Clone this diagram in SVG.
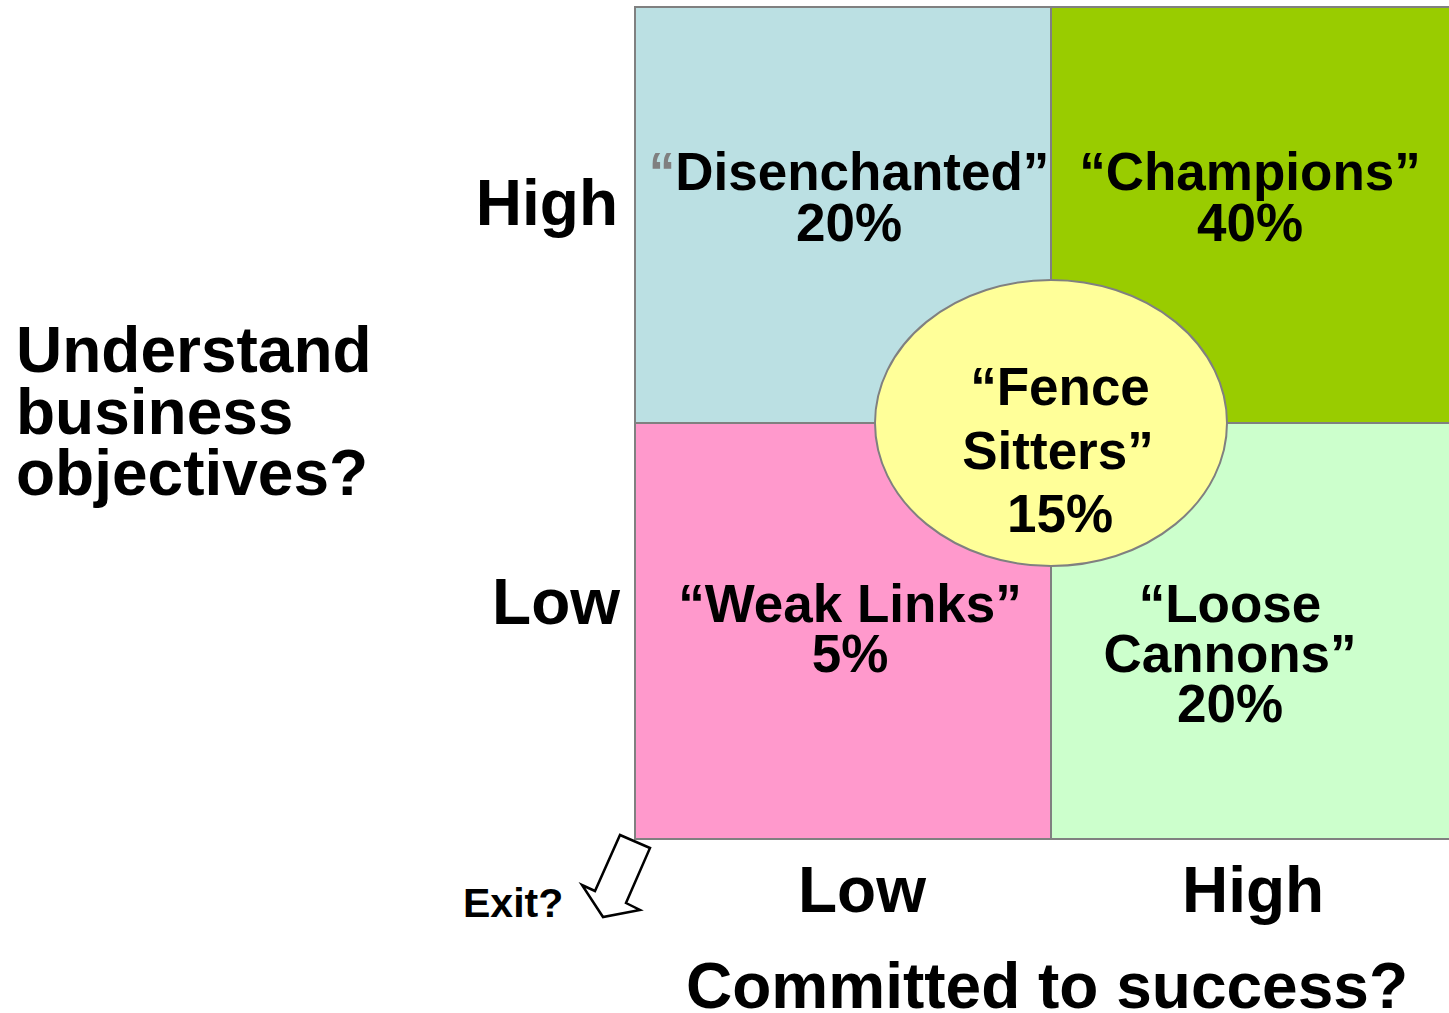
<svg xmlns="http://www.w3.org/2000/svg" width="1449" height="1013" viewBox="0 0 1449 1013">
<style>
text{font-family:"Liberation Sans",Arial,sans-serif;font-weight:bold;fill:#000}
.q{stroke:#808080;stroke-width:2}
.lbl{font-size:53px;text-anchor:middle}
.ax{font-size:64px}
</style>
<rect width="1449" height="1013" fill="#fff"/>
<g id="disenchanted">
<rect class="q" x="635" y="7" width="416" height="416" fill="#BBE0E3"/>
<text class="lbl" x="849" y="190"><tspan fill="#808080">“</tspan>Disenchanted”</text>
<text class="lbl" x="849" y="241">20%</text>
</g>
<g id="champions">
<rect class="q" x="1051" y="7" width="400" height="416" fill="#99CC00"/>
<text class="lbl" x="1250" y="190">“Champions”</text>
<text class="lbl" x="1250" y="241">40%</text>
</g>
<g id="weak-links">
<rect class="q" x="635" y="423" width="416" height="416" fill="#FF99CC"/>
<text class="lbl" x="850" y="622">“Weak Links”</text>
<text class="lbl" x="850" y="672">5%</text>
</g>
<g id="loose-cannons">
<rect class="q" x="1051" y="423" width="400" height="416" fill="#CCFFCC"/>
<text class="lbl" x="1230" y="622">“Loose</text>
<text class="lbl" x="1230" y="672">Cannons”</text>
<text class="lbl" x="1230" y="722">20%</text>
</g>
<g id="fence-sitters">
<ellipse class="q" cx="1051" cy="423" rx="176" ry="143" fill="#FFFF99"/>
<text class="lbl" x="1060" y="405">“Fence</text>
<text class="lbl" x="1058" y="469">Sitters”</text>
<text class="lbl" x="1060" y="532">15%</text>
</g>
<g id="y-axis">
<text class="ax" x="618" y="225" text-anchor="end">High</text>
<text class="ax" x="620" y="624" text-anchor="end">Low</text>
<text class="ax" x="16" y="372" font-size="63">Understand</text>
<text class="ax" x="16" y="434" font-size="63">business</text>
<text class="ax" x="16" y="495" font-size="63">objectives?</text>
</g>
<g id="x-axis">
<text class="ax" x="862" y="912" text-anchor="middle">Low</text>
<text class="ax" x="1253" y="912" text-anchor="middle">High</text>
<text class="ax" x="1047" y="1008" text-anchor="middle">Committed to success?</text>
</g>
<g id="exit">
<polygon points="620,835 650,848 626,903 640,910 603,917 582,885 595,891" fill="#fff" stroke="#000" stroke-width="2.5" stroke-linejoin="miter"/>
<text x="463" y="917" font-size="41">Exit?</text>
</g>
</svg>
